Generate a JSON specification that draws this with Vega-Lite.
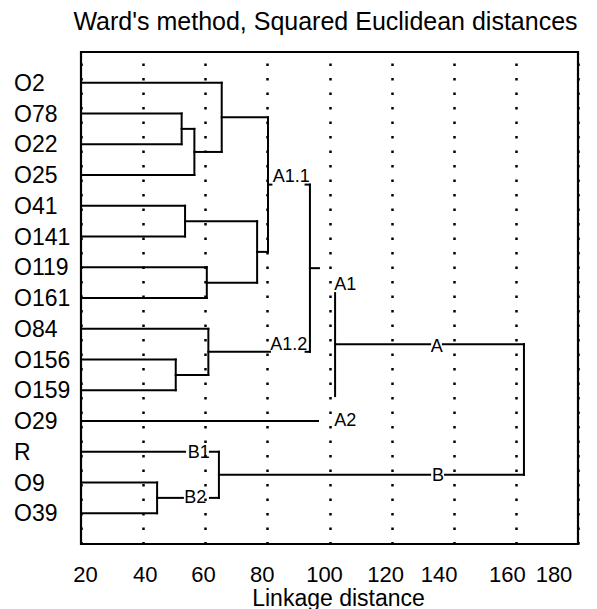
{
  "$schema": "https://vega.github.io/schema/vega-lite/v6.json",
  "width": 497,
  "height": 492,
  "autosize": {"type": "none"},
  "padding": {"left": 81, "top": 52, "right": 19, "bottom": 65},
  "background": "white",
  "config": {
    "view": {"stroke": "black", "strokeWidth": 2.2},
    "font": "Liberation Sans"
  },
  "title": {
    "text": "Ward's method, Squared Euclidean distances",
    "font": "Liberation Sans",
    "fontSize": 25,
    "fontWeight": "normal",
    "color": "black",
    "baseline": "alphabetic",
    "offset": 22,
    "dy": 25,
    "dx": -4
  },
  "datasets": {
    "leaves": [
      {"name": "O2", "pos": 1},
      {"name": "O78", "pos": 2},
      {"name": "O22", "pos": 3},
      {"name": "O25", "pos": 4},
      {"name": "O41", "pos": 5},
      {"name": "O141", "pos": 6},
      {"name": "O119", "pos": 7},
      {"name": "O161", "pos": 8},
      {"name": "O84", "pos": 9},
      {"name": "O156", "pos": 10},
      {"name": "O159", "pos": 11},
      {"name": "O29", "pos": 12},
      {"name": "R", "pos": 13},
      {"name": "O9", "pos": 14},
      {"name": "O39", "pos": 15}
    ],
    "segs": [
      {"x": 20, "x2": 65.3, "y": 1, "y2": 1},
      {"x": 20, "x2": 52.4, "y": 2, "y2": 2},
      {"x": 20, "x2": 52.4, "y": 3, "y2": 3},
      {"x": 20, "x2": 56.5, "y": 4, "y2": 4},
      {"x": 20, "x2": 53.5, "y": 5, "y2": 5},
      {"x": 20, "x2": 53.5, "y": 6, "y2": 6},
      {"x": 20, "x2": 60.5, "y": 7, "y2": 7},
      {"x": 20, "x2": 60.5, "y": 8, "y2": 8},
      {"x": 20, "x2": 61.0, "y": 9, "y2": 9},
      {"x": 20, "x2": 50.5, "y": 10, "y2": 10},
      {"x": 20, "x2": 50.5, "y": 11, "y2": 11},
      {"x": 20, "x2": 96.3, "y": 12, "y2": 12},
      {"x": 20, "x2": 53.5, "y": 13, "y2": 13},
      {"x": 20, "x2": 44.5, "y": 14, "y2": 14},
      {"x": 20, "x2": 44.5, "y": 15, "y2": 15},
      {"x": 52.4, "x2": 56.5, "y": 2.5, "y2": 2.5},
      {"x": 56.5, "x2": 65.3, "y": 3.25, "y2": 3.25},
      {"x": 65.3, "x2": 80.2, "y": 2.125, "y2": 2.125},
      {"x": 53.5, "x2": 76.7, "y": 5.5, "y2": 5.5},
      {"x": 60.5, "x2": 76.7, "y": 7.5, "y2": 7.5},
      {"x": 76.7, "x2": 80.2, "y": 6.5, "y2": 6.5},
      {"x": 50.5, "x2": 61.0, "y": 10.5, "y2": 10.5},
      {"x": 61.0, "x2": 80.85, "y": 9.75, "y2": 9.75},
      {"x": 92.3, "x2": 93.7, "y": 9.75, "y2": 9.75},
      {"x": 80.2, "x2": 81.3, "y": 4.3125, "y2": 4.3125},
      {"x": 92.3, "x2": 93.7, "y": 4.3125, "y2": 4.3125},
      {"x": 93.7, "x2": 96.6, "y": 7.03, "y2": 7.03},
      {"x": 101.8, "x2": 132.4, "y": 9.5, "y2": 9.5},
      {"x": 136.5, "x2": 162.6, "y": 9.5, "y2": 9.5},
      {"x": 64.4, "x2": 132.4, "y": 13.75, "y2": 13.75},
      {"x": 137.2, "x2": 162.6, "y": 13.75, "y2": 13.75},
      {"x": 44.5, "x2": 52.8, "y": 14.5, "y2": 14.5},
      {"x": 61.5, "x2": 64.4, "y": 13, "y2": 13},
      {"x": 61.5, "x2": 64.4, "y": 14.5, "y2": 14.5},
      {"x": 52.4, "x2": 52.4, "y": 2, "y2": 3},
      {"x": 56.5, "x2": 56.5, "y": 2.5, "y2": 4},
      {"x": 65.3, "x2": 65.3, "y": 1, "y2": 3.25},
      {"x": 53.5, "x2": 53.5, "y": 5, "y2": 6},
      {"x": 60.5, "x2": 60.5, "y": 7, "y2": 8},
      {"x": 76.7, "x2": 76.7, "y": 5.5, "y2": 7.5},
      {"x": 80.2, "x2": 80.2, "y": 2.125, "y2": 6.5},
      {"x": 50.5, "x2": 50.5, "y": 10, "y2": 11},
      {"x": 61.0, "x2": 61.0, "y": 9, "y2": 10.5},
      {"x": 93.7, "x2": 93.7, "y": 4.3125, "y2": 9.75},
      {"x": 101.8, "x2": 101.8, "y": 7.84, "y2": 11.19},
      {"x": 162.6, "x2": 162.6, "y": 9.5, "y2": 13.75},
      {"x": 64.4, "x2": 64.4, "y": 13, "y2": 14.5},
      {"x": 44.5, "x2": 44.5, "y": 14, "y2": 15}
    ],
    "labels": [
      {"label": "A1.1", "x": 81.7, "y": 4.07},
      {"label": "A1.2", "x": 80.9, "y": 9.52},
      {"label": "A1", "x": 101.5, "y": 7.58},
      {"label": "A2", "x": 101.5, "y": 12.0},
      {"label": "A", "x": 132.6, "y": 9.58},
      {"label": "B", "x": 133.0, "y": 13.78},
      {"label": "B1", "x": 54.4, "y": 13.03},
      {"label": "B2", "x": 53.2, "y": 14.5}
    ]
  },
  "layer": [
    {
      "data": {"name": "segs"},
      "mark": {"type": "rule", "color": "black", "strokeWidth": 2, "strokeCap": "square"},
      "encoding": {
        "x": {
          "field": "x",
          "type": "quantitative",
          "scale": {"domain": [20, 180], "nice": false, "zero": false},
          "axis": {
            "values": [20, 40, 60, 80, 100, 120, 140, 160, 180],
            "title": "Linkage distance",
            "titleFont": "Liberation Sans",
            "titleFontSize": 23,
            "titleFontWeight": "normal",
            "titleColor": "black",
            "titleBaseline": "alphabetic",
            "titleAlign": "center",
            "titleX": 257,
            "titleY": 61,
            "labelFont": "Liberation Sans",
            "labelFontSize": 22,
            "labelColor": "black",
            "labelBaseline": "alphabetic",
            "labelPadding": 37,
            "labelOffset": {
              "condition": [
                {"test": "datum.value === 20", "value": 4},
                {"test": "datum.value === 40", "value": 1.6},
                {"test": "datum.value === 60", "value": -2.2},
                {"test": "datum.value === 80", "value": -5.7},
                {"test": "datum.value === 100", "value": -5.5},
                {"test": "datum.value === 120", "value": -6.6},
                {"test": "datum.value === 140", "value": -15.2},
                {"test": "datum.value === 160", "value": -9.1},
                {"test": "datum.value === 180", "value": -24.5}
              ],
              "value": 0
            },
            "labelFlush": false,
            "labelOverlap": false,
            "ticks": false,
            "tickSize": 0,
            "domain": false,
            "grid": true,
            "gridColor": "black",
            "gridWidth": 2.5,
            "gridDash": [2.5, 12],
            "gridOpacity": 1
          }
        },
        "x2": {"field": "x2"},
        "y": {
          "field": "y",
          "type": "quantitative",
          "scale": {"domain": [0, 16], "reverse": true, "nice": false, "zero": false},
          "axis": null
        },
        "y2": {"field": "y2"}
      }
    },
    {
      "data": {"name": "leaves"},
      "mark": {"type": "text", "font": "Liberation Sans", "fontSize": 23, "color": "black", "align": "left", "baseline": "middle", "dx": -67, "dy": 1},
      "encoding": {
        "x": {"datum": 20, "type": "quantitative"},
        "y": {"field": "pos", "type": "quantitative"},
        "text": {"field": "name"}
      }
    },
    {
      "data": {"name": "labels"},
      "mark": {"type": "text", "font": "Liberation Sans", "fontSize": 18, "color": "black", "align": "left", "baseline": "middle"},
      "encoding": {
        "x": {"field": "x", "type": "quantitative"},
        "y": {"field": "y", "type": "quantitative"},
        "text": {"field": "label"}
      }
    }
  ]
}
